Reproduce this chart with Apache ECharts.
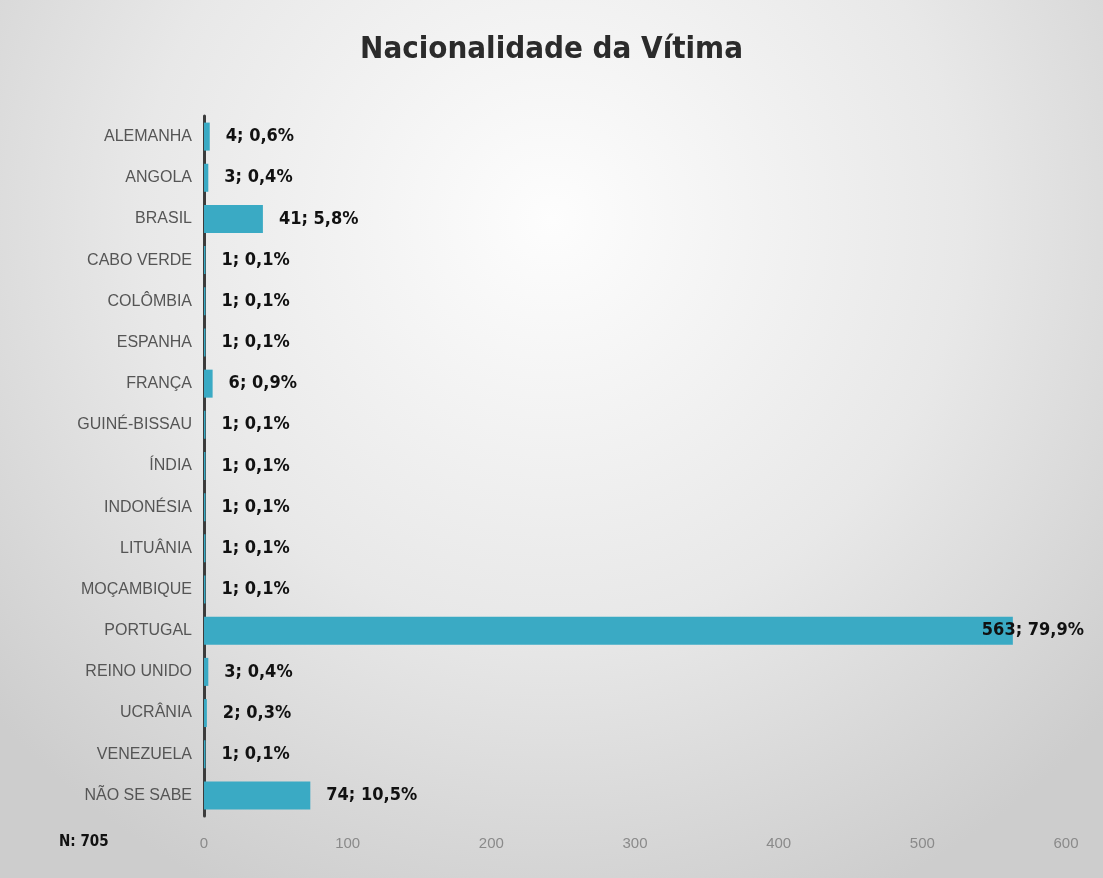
<!DOCTYPE html>
<html><head><meta charset="utf-8">
<script src="https://cdn.jsdelivr.net/npm/echarts@6/dist/echarts.min.js"></script>
<style>html,body{margin:0;padding:0;}#c{width:1103px;height:878px;}</style>
</head><body><div id="c"></div>
<script>
const categories = ["ALEMANHA","ANGOLA","BRASIL","CABO VERDE","COLÔMBIA","ESPANHA","FRANÇA","GUINÉ-BISSAU","ÍNDIA","INDONÉSIA","LITUÂNIA","MOÇAMBIQUE","PORTUGAL","REINO UNIDO","UCRÂNIA","VENEZUELA","NÃO SE SABE"];
const counts = [4,3,41,1,1,1,6,1,1,1,1,1,563,3,2,1,74];
const percents = ["0,6%","0,4%","5,8%","0,1%","0,1%","0,1%","0,9%","0,1%","0,1%","0,1%","0,1%","0,1%","79,9%","0,4%","0,3%","0,1%","10,5%"];
const xTicks = [0,100,200,300,400,500,600];
const title = "Nacionalidade da Vítima";
const note = "N: 705";

const chart = echarts.init(document.getElementById('c'));
const data = counts.map((v,i)=>{
  const d = {value:v};
  if (v > 500) d.label = {offset:[-47,0]};
  return d;
});
chart.setOption({
  backgroundColor: {type:'radial', x:0.5, y:0.25, r:0.85, colorStops:[{offset:0,color:'#fdfdfd'},{offset:0.55,color:'#e8e8e8'},{offset:1,color:'#cdcdcd'}]},
  title: {text:title, left:'center', top:29, textStyle:{fontFamily:'DejaVu Sans Condensed, DejaVu Sans', fontSize:31, fontWeight:'bold', color:'#2b2b2b'}},
  graphic: [{type:'text', left:59, top:835, style:{text:note, font:'bold 15px "DejaVu Sans Condensed", sans-serif', fill:'#111'}}],
  grid: {left:204, right:37, top:116, bottom:62, containLabel:false},
  xAxis: {type:'value', min:0, max:600, interval:100, axisLine:{show:false}, axisTick:{show:false}, splitLine:{show:false},
    axisLabel:{color:'#8a8a8a', fontSize:15, margin:20, fontFamily:'Liberation Sans', formatter:(v)=> xTicks.includes(v)? String(v):''}},
  yAxis: {type:'category', data:categories, inverse:true, axisTick:{show:false},
    axisLine:{lineStyle:{color:'#3c3c3c', width:3}},
    axisLabel:{color:'#555', fontSize:16, margin:12, fontFamily:'Liberation Sans, sans-serif'}},
  series: [{type:'bar', data:data, barCategoryGap:'32%', itemStyle:{color:'#3aaac4'},
    label:{show:true, position:'right', distance:16, color:'#111', fontSize:18, fontWeight:'bold', fontFamily:'DejaVu Sans Condensed, sans-serif',
      formatter:(p)=> counts[p.dataIndex] + '; ' + percents[p.dataIndex]}}]
});
</script></body></html>
